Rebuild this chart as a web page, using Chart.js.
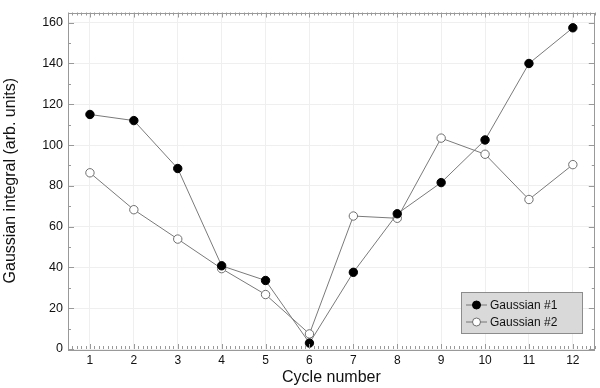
<!DOCTYPE html>
<html>
<head>
<meta charset="utf-8">
<script src="https://cdn.jsdelivr.net/npm/chart.js@4/dist/chart.umd.min.js"></script>
<style>
  html, body { margin: 0; padding: 0; background: #fff; }
  #wrap { width: 600px; height: 388px; }
</style>
</head>
<body>
<div id="wrap"><canvas id="gaussChart" width="600" height="388"></canvas></div>
<script>
// data
const cycles = [1, 2, 3, 4, 5, 6, 7, 8, 9, 10, 11, 12];
const gaussian1 = [115, 112, 88.5, 40.8, 33.6, 2.9, 37.6, 66.3, 81.6, 102.5, 140, 157.5];
const gaussian2 = [86.4, 68.3, 53.9, 39.4, 26.7, 7.4, 65.2, 64.1, 103.4, 95.5, 73.3, 90.4];
const seriesNames = ["Gaussian #1", "Gaussian #2"];
const yTicks = [0, 20, 40, 60, 80, 100, 120, 140, 160];

const FONT = "'Liberation Sans', Arial, Helvetica, sans-serif";

// frame, inward tick marks and the boxed legend
const framePlugin = {
  id: "frame",
  afterDraw(chart) {
    const ctx = chart.ctx;
    const a = chart.chartArea;
    const xs = chart.scales.x;
    const ys = chart.scales.y;
    ctx.save();
    ctx.strokeStyle = "#999";
    ctx.lineWidth = 1;
    ctx.strokeRect(Math.round(a.left) + 0.5, Math.round(a.top) + 0.5,
      Math.round(a.right - a.left) - 1, Math.round(a.bottom - a.top));

    ctx.beginPath();
    // x ticks every 0.1, longer at integers
    for (let i = 5; i <= 125; i++) {
      const px = Math.round(xs.getPixelForValue(i / 10)) + 0.5;
      const len = i % 10 === 0 ? 5 : 3;
      ctx.moveTo(px, a.bottom);
      ctx.lineTo(px, a.bottom - len);
      ctx.moveTo(px, a.top);
      ctx.lineTo(px, a.top + len);
    }
    // y ticks every 10, longer at labelled values
    for (let v = 0; v <= 160; v += 10) {
      const py = Math.round(ys.getPixelForValue(v)) + 0.5;
      const len = v % 20 === 0 ? 6 : 3;
      ctx.moveTo(a.left, py);
      ctx.lineTo(a.left + len, py);
      ctx.moveTo(a.right, py);
      ctx.lineTo(a.right - len, py);
    }
    ctx.stroke();

    // legend box
    const bx = 461.5, by = 292.5, bw = 121, bh = 41;
    ctx.fillStyle = "#d9d9d9";
    ctx.fillRect(bx, by, bw, bh);
    ctx.strokeStyle = "#8c8c8c";
    ctx.strokeRect(bx, by, bw, bh);
    chart.data.datasets.forEach((ds, i) => {
      const cy = 305 + i * 17;
      ctx.strokeStyle = "#777";
      ctx.beginPath();
      ctx.moveTo(466, cy);
      ctx.lineTo(487, cy);
      ctx.stroke();
      ctx.beginPath();
      ctx.arc(476.5, cy, 4, 0, Math.PI * 2);
      ctx.fillStyle = ds.pointBackgroundColor;
      ctx.fill();
      ctx.strokeStyle = ds.pointBorderColor;
      ctx.stroke();
      ctx.fillStyle = "#111";
      ctx.font = "12px " + FONT;
      ctx.textBaseline = "middle";
      ctx.fillText(ds.label, 490, cy + 0.5);
    });
    ctx.restore();
  }
};

new Chart(document.getElementById("gaussChart").getContext("2d"), {
  type: "line",
  data: {
    datasets: [
      {
        label: seriesNames[0],
        data: cycles.map((c, i) => ({ x: c, y: gaussian1[i] })),
        borderColor: "#7a7a7a",
        borderWidth: 1,
        pointRadius: 4.2,
        pointBackgroundColor: "#000",
        pointBorderColor: "#000",
        pointBorderWidth: 1,
        tension: 0,
      },
      {
        label: seriesNames[1],
        data: cycles.map((c, i) => ({ x: c, y: gaussian2[i] })),
        borderColor: "#7a7a7a",
        borderWidth: 1,
        pointRadius: 4.2,
        pointBackgroundColor: "#fff",
        pointBorderColor: "#6e6e6e",
        pointBorderWidth: 1,
        tension: 0,
      },
    ],
  },
  options: {
    responsive: false,
    animation: false,
    clip: false,
    layout: { padding: { top: 5, right: 2, left: 0, bottom: 0 } },
    plugins: {
      legend: { display: false },
      tooltip: { enabled: false },
    },
    scales: {
      x: {
        type: "linear",
        min: 0.5,
        max: 12.5,
        afterBuildTicks: (s) => { s.ticks = cycles.map((v) => ({ value: v })); },
        afterFit: (s) => { s.height = 39; },
        grid: { color: "#efefef", drawTicks: false },
        border: { display: false },
        ticks: { color: "#111", font: { family: FONT, size: 12 }, padding: 4, maxRotation: 0 },
        title: {
          display: true,
          text: "Cycle number",
          color: "#111",
          font: { family: FONT, size: 16 },
          padding: { top: 0, bottom: 1 },
        },
      },
      y: {
        min: 0,
        max: 165,
        afterBuildTicks: (s) => { s.ticks = yTicks.map((v) => ({ value: v })); },
        afterFit: (s) => { s.width = 68; },
        grid: { color: "#efefef", drawTicks: false },
        border: { display: false },
        ticks: { color: "#111", font: { family: FONT, size: 12.5 }, padding: 5 },
        title: {
          display: true,
          text: "Gaussian integral (arb. units)",
          color: "#111",
          font: { family: FONT, size: 16 },
          padding: { top: 1, bottom: 0 },
        },
      },
    },
  },
  plugins: [framePlugin],
});
</script>
</body>
</html>
